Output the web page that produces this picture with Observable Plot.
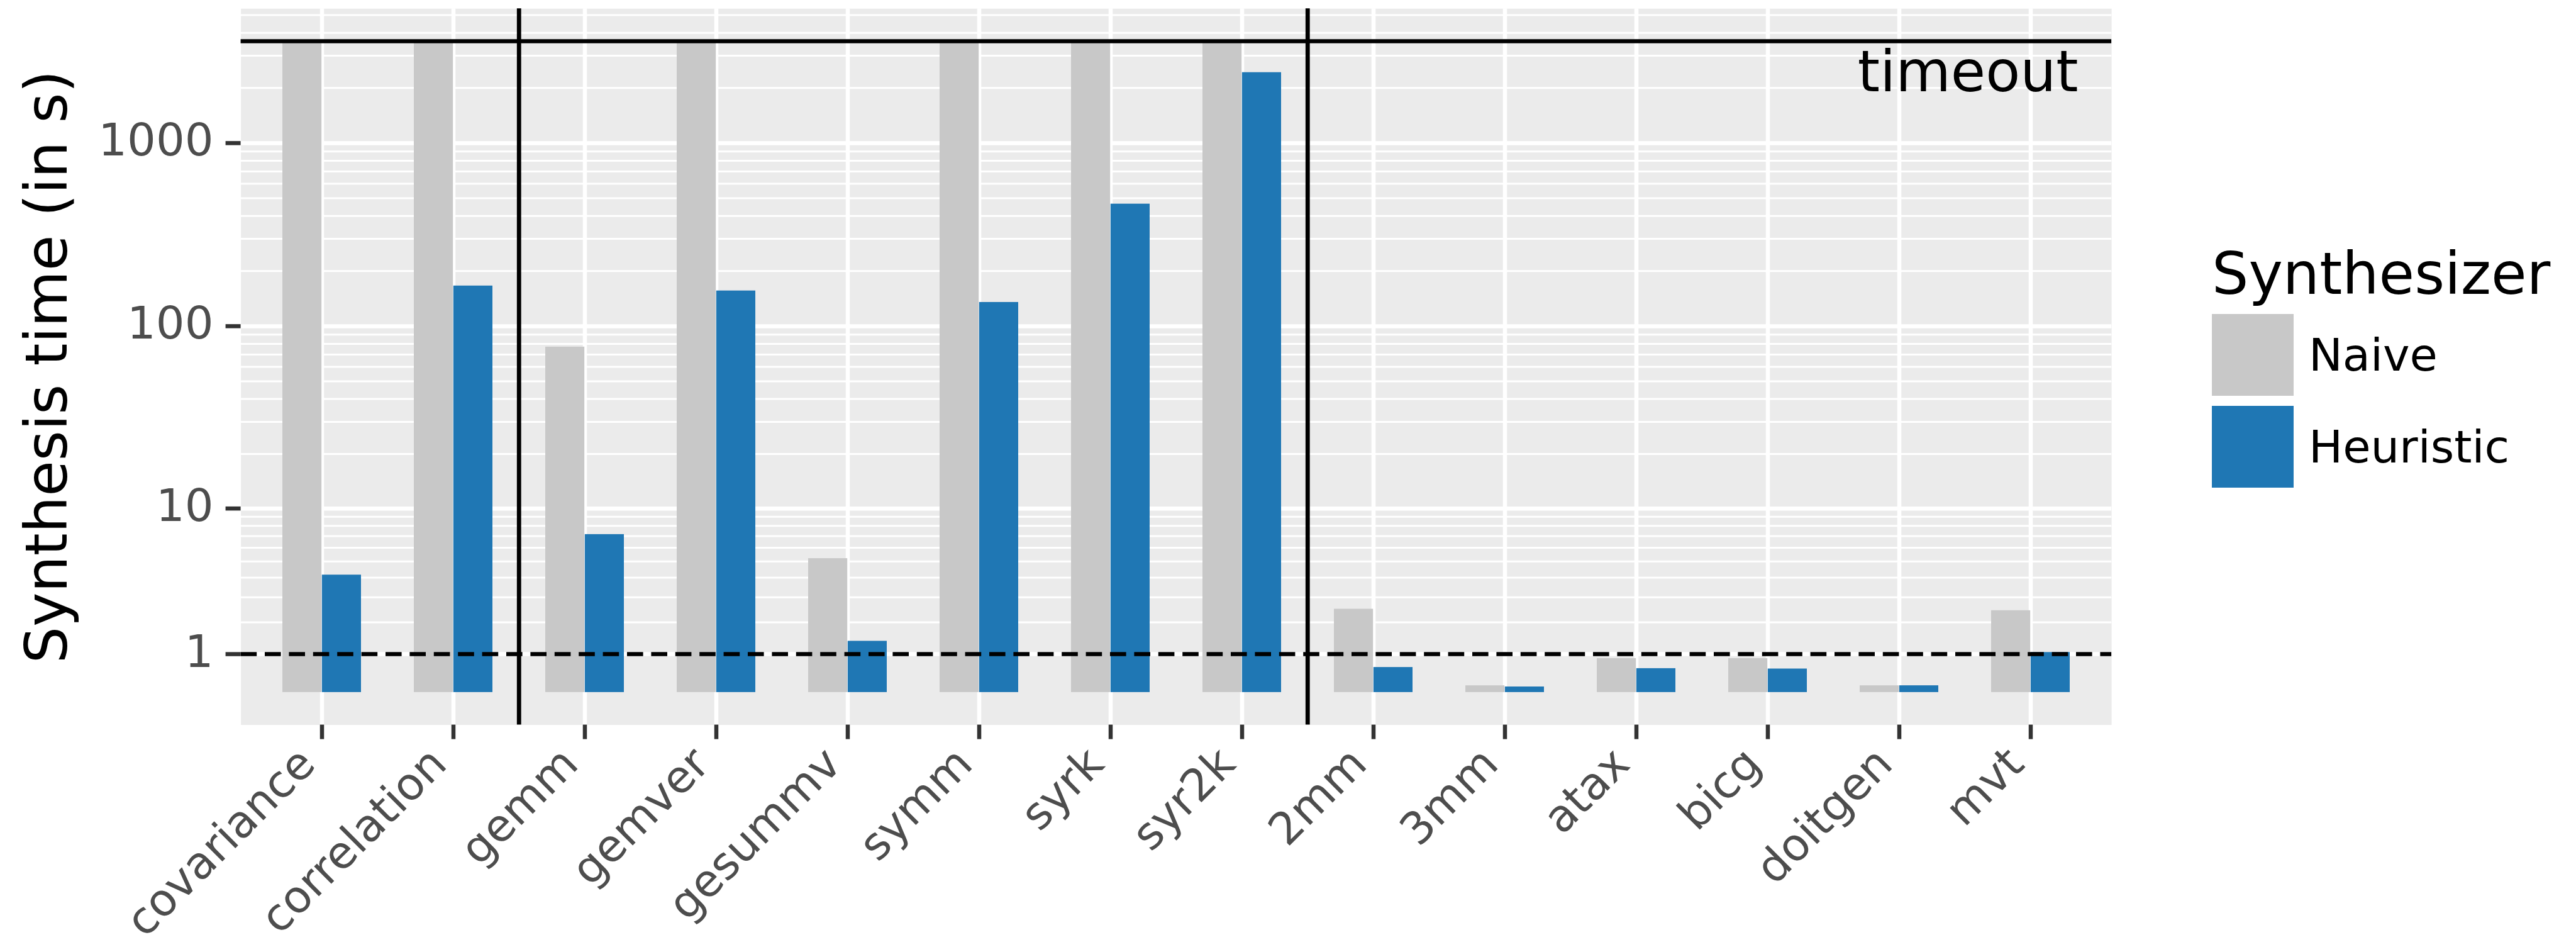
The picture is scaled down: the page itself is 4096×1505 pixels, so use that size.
<!DOCTYPE html>
<html>
<head>
<meta charset="utf-8">
<script src="https://cdn.jsdelivr.net/npm/d3@7"></script>
<script src="https://cdn.jsdelivr.net/npm/@observablehq/plot@0.6"></script>
<style>
  html, body { margin: 0; padding: 0; background: #ffffff; }
  #chart { position: relative; width: 4096px; height: 1505px; font-family: "DejaVu Sans", sans-serif; }
  #chart svg { position: absolute; left: 0; top: 0; }
  .legend-title { position: absolute; left: 3517px; top: 390px; font-size: 92px; line-height: 1; color: #000; white-space: nowrap; }
  .legend-key { position: absolute; left: 3517px; width: 130px; height: 130px; }
  .legend-label { position: absolute; left: 3671px; height: 130px; display: flex; align-items: center; font-size: 72px; line-height: 1; color: #000; white-space: nowrap; }
</style>
</head>
<body>
<div id="chart"></div>
<script>
// Benchmarks, in axis order
const categories = ["covariance", "correlation", "gemm", "gemver", "gesummv", "symm", "syrk", "syr2k",
                    "2mm", "3mm", "atax", "bicg", "doitgen", "mvt"];
// Synthesis time in seconds (3600 = hit the one-hour timeout)
const naive     = [3600, 3600, 77, 3600, 5.2, 3600, 3600, 3600, 2.5, 0.17, 0.88, 0.88, 0.17, 2.44];
const heuristic = [4.15, 166, 7.15, 156, 1.38, 135, 465, 2430, 0.64, 0.14, 0.61, 0.60, 0.17, 1.05];

const synthesizers = ["Naive", "Heuristic"];
const colors = ["#c8c8c8", "#1f77b4"];

const timeout = 3600;
const yTicks = [1, 10, 100, 1000];
const yMinor = [2, 3, 4, 5, 6, 7, 8, 9, 20, 30, 40, 50, 60, 70, 80, 90,
                200, 300, 400, 500, 600, 700, 800, 900, 2000, 3000, 4000, 5000];
// first benchmark of each new group gets a separator on its left
const groupStarts = ["gemm", "2mm"];

// ---- layout ----
const W = 4096, H = 1505;
const margin = {left: 382.6, right: 738.9, top: 13.3, bottom: 353.4};
const padInner = 0.4, padOuter = 0.3;
const step = (W - margin.left - margin.right) / (categories.length - padInner + 2 * padOuter);
const halfBar = step * (1 - padInner) / 2;

// pseudo-log (asinh) transform, domain padded by 5% like a ggplot continuous scale
const pseudoLog = v => Math.asinh(v / 2);
const t0 = pseudoLog(0), t1 = pseudoLog(timeout);
const pad = (t1 - t0) * 0.05;
const yDomain = [t0 - pad, t1 + pad];

const rows = categories.map((c, i) => ({category: c, naive: naive[i], heuristic: heuristic[i]}));

const chart = Plot.plot({
  width: W,
  height: H,
  marginLeft: margin.left,
  marginRight: margin.right,
  marginTop: margin.top,
  marginBottom: margin.bottom,
  style: {fontFamily: "DejaVu Sans, sans-serif", background: "transparent", overflow: "visible"},
  x: {type: "band", domain: categories, paddingInner: padInner, paddingOuter: padOuter, align: 0.5},
  y: {transform: pseudoLog, domain: yDomain},
  marks: [
    Plot.frame({fill: "#ebebeb", stroke: "none"}),
    Plot.ruleY(yMinor, {y: d => d, stroke: "#ffffff", strokeWidth: 3}),
    Plot.ruleY(yTicks, {y: d => d, stroke: "#ffffff", strokeWidth: 6.5}),
    Plot.ruleX(categories, {x: d => d, stroke: "#ffffff", strokeWidth: 6.5}),
    Plot.barY(rows, {x: "category", y: "naive", fill: colors[0], insetRight: halfBar}),
    Plot.barY(rows, {x: "category", y: "heuristic", fill: colors[1], insetLeft: halfBar}),
    Plot.ruleY([1], {y: d => d, stroke: "#000000", strokeWidth: 6.5, strokeDasharray: "25.6,12.8"}),
    Plot.ruleY([timeout], {y: d => d, stroke: "#000000", strokeWidth: 6.5}),
    Plot.ruleX(groupStarts, {x: d => d, dx: -step / 2, stroke: "#000000", strokeWidth: 6.8}),
    Plot.text([timeout], {y: d => d, text: () => "timeout", frameAnchor: "right", textAnchor: "end",
                          lineAnchor: "top", dx: -53, dy: 16, fontSize: 90, fill: "#000000"}),
    // y axis: ticks, labels, title
    Plot.axisY(yTicks, {tickSize: 24, stroke: "#333333", strokeWidth: 6.5, fill: "none", label: null}),
    Plot.text(yTicks, {y: d => d, text: d => String(d), frameAnchor: "left", textAnchor: "end",
                       dx: -43.6, dy: -3, fontSize: 72, fill: "#4d4d4d"}),
    Plot.text(["Synthesis time (in s)"], {frameAnchor: "left", rotate: -90, textAnchor: "middle",
                       lineAnchor: "bottom", dx: -277.6, fontSize: 92, fill: "#000000"}),
    // x axis: ticks and rotated labels
    Plot.axisX({tickSize: 23, stroke: "#333333", strokeWidth: 6.5, fill: "none", label: null}),
    Plot.text(categories, {x: d => d, frameAnchor: "bottom", rotate: -45, textAnchor: "end",
                           lineAnchor: "top", dx: -43, dy: 30, fontSize: 71, fill: "#4d4d4d"})
  ]
});

const root = document.getElementById("chart");
root.appendChild(chart);

// legend
const title = document.createElement("div");
title.className = "legend-title";
title.textContent = "Synthesizer";
root.appendChild(title);
const keyTops = [499, 645];
synthesizers.forEach((name, i) => {
  const key = document.createElement("div");
  key.className = "legend-key";
  key.style.top = keyTops[i] + "px";
  key.style.background = colors[i];
  root.appendChild(key);
  const label = document.createElement("div");
  label.className = "legend-label";
  label.style.top = keyTops[i] + "px";
  label.textContent = name;
  root.appendChild(label);
});
</script>
</body>
</html>
